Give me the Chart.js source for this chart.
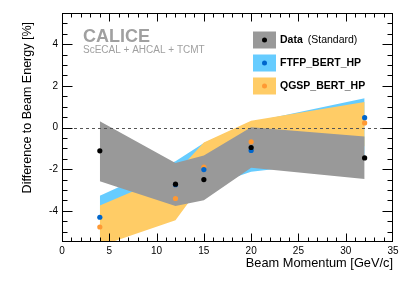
<!DOCTYPE html>
<html>
<head>
<meta charset="utf-8">
<script src="https://cdn.jsdelivr.net/npm/chart.js@4"></script>
<style>
  body { margin: 0; background: #fff; }
  #wrap { width: 415px; height: 281px; }
</style>
</head>
<body>
<div id="wrap"><canvas id="energyChart" width="415" height="281"></canvas></div>
<script>
// beam momenta [GeV/c]
var momenta = [4, 12, 15, 20, 32];

// data (standard reconstruction)
var dataMean = [-1.12, -2.72, -2.5, -0.96, -1.46];
var dataUpper = [0.3, -1.7, -1.35, 0.01, -0.43];
var dataLower = [-2.58, -3.77, -3.5, -1.93, -2.47];

// FTFP_BERT_HP
var ftfpMean = [-4.31, -2.75, -2.02, -1.1, 0.47];
var ftfpUpper = [-3.28, -1.62, -0.75, 0.25, 1.41];
var ftfpLower = [-5.2, -4.2, -2.9, -2.12, -1.5];

// QGSP_BERT_HP
var qgspMean = [-4.78, -3.41, -1.9, -0.69, 0.22];
var qgspUpper = [-3.75, -2.2, -0.72, 0.32, 1.22];
var qgspLower = [-5.7, -4.45, -2.6, -1.5, -0.9];

var xTicks = [0, 5, 10, 15, 20, 25, 30, 35];
var yTicks = [-4, -2, 0, 2, 4];

var FONT = '"Liberation Sans", Arial, Helvetica, sans-serif';

function pts(ys) {
  return momenta.map(function (m, i) { return { x: m, y: ys[i] }; });
}

function band(upper, lower, color) {
  return [{
    data: pts(upper), showLine: true, pointRadius: 0, borderWidth: 1,
    borderColor: 'rgba(0,0,0,0)', backgroundColor: color, fill: '+1', tension: 0
  }, {
    data: pts(lower), showLine: true, pointRadius: 0, borderWidth: 1,
    borderColor: 'rgba(0,0,0,0)', backgroundColor: color, fill: false, tension: 0
  }];
}

function markers(ys, color) {
  return {
    data: pts(ys), showLine: false, pointRadius: 2.6, pointHoverRadius: 2.6,
    pointBackgroundColor: color, pointBorderWidth: 0, pointBorderColor: color
  };
}

// first dataset is drawn on top
var datasets = [
  markers(dataMean, '#000000'),
  markers(ftfpMean, '#0066cc'),
  markers(qgspMean, '#ff9933')
].concat(band(dataUpper, dataLower, '#999999'))
 .concat(band(qgspUpper, qgspLower, '#ffcc66'))
 .concat(band(ftfpUpper, ftfpLower, '#66ccff'));

// frame, inner ticks, zero line, legend and text
var decor = {
  id: 'decor',
  afterDatasetsDraw: function (chart) {
    var ctx = chart.ctx, a = chart.chartArea, y = chart.scales.y;
    var y0 = Math.round(y.getPixelForValue(0)) + 0.5;
    ctx.save();
    ctx.strokeStyle = '#555';
    ctx.lineWidth = 1;
    ctx.setLineDash([3, 3]);
    ctx.beginPath();
    ctx.moveTo(a.left, y0);
    ctx.lineTo(a.right, y0);
    ctx.stroke();
    ctx.restore();
  },
  afterDraw: function (chart) {
    var ctx = chart.ctx, a = chart.chartArea;
    var x = chart.scales.x, y = chart.scales.y;
    ctx.save();
    ctx.strokeStyle = '#000';
    ctx.lineWidth = 1;
    var L = Math.round(a.left) + 0.5, R = Math.round(a.right) - 0.5;
    var T = Math.round(a.top) + 0.5, B = Math.round(a.bottom) - 0.5;
    ctx.strokeRect(L, T, R - L, B - T);

    ctx.beginPath();
    // x ticks every 1, major every 5
    for (var v = 1; v < 35; v++) {
      var px = Math.round(x.getPixelForValue(v)) + 0.5;
      var len = v % 5 === 0 ? 8 : 4;
      ctx.moveTo(px, B); ctx.lineTo(px, B - len);
      ctx.moveTo(px, T); ctx.lineTo(px, T + len);
    }
    // y ticks every 0.5, major every 2
    for (var k = -10; k <= 10; k++) {
      var val = k / 2;
      var py = Math.round(y.getPixelForValue(val)) + 0.5;
      var ylen = k % 4 === 0 ? 10 : 5;
      ctx.moveTo(L, py); ctx.lineTo(L + ylen, py);
      ctx.moveTo(R, py); ctx.lineTo(R - ylen, py);
    }
    ctx.stroke();

    // axis titles
    ctx.fillStyle = '#000';
    ctx.font = '12.8px ' + FONT;
    ctx.textAlign = 'right';
    ctx.textBaseline = 'alphabetic';
    ctx.fillText('Beam Momentum [GeV/c]', a.right, 267);

    ctx.save();
    ctx.translate(28, 22);
    ctx.rotate(-Math.PI / 2);
    ctx.font = '12.5px ' + FONT;
    ctx.textAlign = 'right';
    ctx.textBaseline = 'middle';
    ctx.fillText('Difference to Beam Energy [%]', 0, 0);
    ctx.restore();

    // CALICE label
    ctx.textAlign = 'left';
    ctx.fillStyle = '#a0a0a0';
    ctx.font = 'bold 18px ' + FONT;
    ctx.fillText('CALICE', 83, 42);
    ctx.font = '10px ' + FONT;
    ctx.fillText('ScECAL + AHCAL + TCMT', 83, 52.5);

    // legend
    var items = [
      { box: '#999999', dot: '#000000', bold: 'Data', rest: '(Standard)', cy: 40 },
      { box: '#66ccff', dot: '#0066cc', bold: 'FTFP_BERT_HP', rest: '', cy: 63 },
      { box: '#ffcc66', dot: '#ff9933', bold: 'QGSP_BERT_HP', rest: '', cy: 86 }
    ];
    items.forEach(function (it) {
      ctx.fillStyle = it.box;
      ctx.fillRect(253, it.cy - 8.5, 23, 17);
      ctx.fillStyle = it.dot;
      ctx.beginPath();
      ctx.arc(264.5, it.cy, 2.5, 0, Math.PI * 2);
      ctx.fill();
      ctx.fillStyle = '#000';
      ctx.textBaseline = 'middle';
      ctx.font = 'bold 10.5px ' + FONT;
      ctx.fillText(it.bold, 280, it.cy + 0.5);
      if (it.rest) {
        var w = ctx.measureText(it.bold).width;
        ctx.font = '10.5px ' + FONT;
        ctx.fillText(it.rest, 280 + w + 5, it.cy + 0.5);
      }
    });
    ctx.restore();
  }
};

var ctx = document.getElementById('energyChart').getContext('2d');
var energyChart = new Chart(ctx, {
  type: 'scatter',
  data: { datasets: datasets },
  options: {
    responsive: false,
    animation: false,
    layout: { padding: { top: 13, right: 22, bottom: 0, left: 0 } },
    plugins: {
      legend: { display: false },
      tooltip: { enabled: false }
    },
    scales: {
      x: {
        type: 'linear',
        min: 0,
        max: 35,
        afterBuildTicks: function (s) { s.ticks = xTicks.map(function (v) { return { value: v }; }); },
        afterFit: function (s) { s.height = 39; },
        grid: { display: false, drawTicks: false },
        border: { display: false },
        ticks: { color: '#000', font: { family: FONT, size: 10 }, padding: 3, maxRotation: 0 }
      },
      y: {
        type: 'linear',
        min: -5.5,
        max: 5.5,
        afterBuildTicks: function (s) { s.ticks = yTicks.map(function (v) { return { value: v }; }); },
        afterFit: function (s) { s.width = 62; },
        grid: { display: false, drawTicks: false },
        border: { display: false },
        ticks: { color: '#000', font: { family: FONT, size: 10 }, padding: 4 }
      }
    }
  },
  plugins: [decor]
});
</script>
</body>
</html>
